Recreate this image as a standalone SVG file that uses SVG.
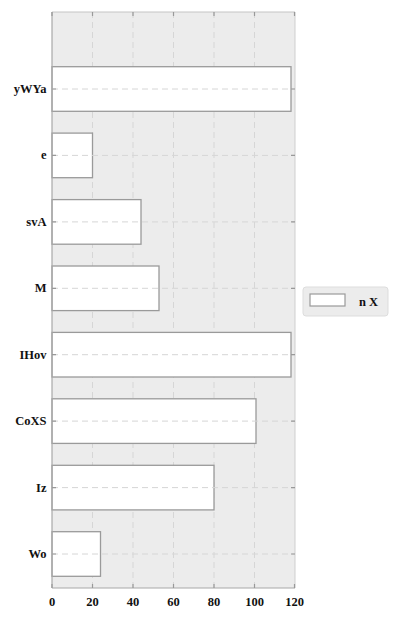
<svg xmlns="http://www.w3.org/2000/svg" width="414" height="621" viewBox="0 0 414 621">
<style>
.lbl{font-family:"Liberation Serif","DejaVu Serif",serif;font-weight:bold;font-size:12.5px;fill:#111}
.grid{stroke:#d6d6d6;stroke-width:1;stroke-dasharray:6,4;fill:none}
.bar{fill:#ffffff;stroke:#9a9a9a;stroke-width:1.3}
.tick{stroke:#999;stroke-width:1.2}
</style>
<rect width="414" height="621" fill="#ffffff"/>
<g id="plot">
<rect x="52" y="12" width="243" height="576" fill="#ececec"/>
<g id="grid">
<line class="grid" x1="92.5" y1="12" x2="92.5" y2="588"/>
<line class="grid" x1="133" y1="12" x2="133" y2="588"/>
<line class="grid" x1="173.5" y1="12" x2="173.5" y2="588"/>
<line class="grid" x1="214" y1="12" x2="214" y2="588"/>
<line class="grid" x1="254.5" y1="12" x2="254.5" y2="588"/>
</g>
</g>
<g id="bars">
<rect id="bar-yWYa" class="bar" x="52" y="66.7" width="239" height="44.6"/>
<rect id="bar-e" class="bar" x="52" y="133.1" width="40.5" height="44.6"/>
<rect id="bar-svA" class="bar" x="52" y="199.6" width="89" height="44.6"/>
<rect id="bar-M" class="bar" x="52" y="266" width="107" height="44.6"/>
<rect id="bar-IHov" class="bar" x="52" y="332.4" width="239" height="44.6"/>
<rect id="bar-CoXS" class="bar" x="52" y="398.8" width="204" height="44.6"/>
<rect id="bar-Iz" class="bar" x="52" y="465.3" width="162" height="44.6"/>
<rect id="bar-Wo" class="bar" x="52" y="531.7" width="48.5" height="44.6"/>
</g>
<g id="hgrid">
<line class="grid" x1="52" y1="89" x2="295" y2="89"/>
<line class="grid" x1="52" y1="155.4" x2="295" y2="155.4"/>
<line class="grid" x1="52" y1="221.9" x2="295" y2="221.9"/>
<line class="grid" x1="52" y1="288.3" x2="295" y2="288.3"/>
<line class="grid" x1="52" y1="354.7" x2="295" y2="354.7"/>
<line class="grid" x1="52" y1="421.1" x2="295" y2="421.1"/>
<line class="grid" x1="52" y1="487.6" x2="295" y2="487.6"/>
<line class="grid" x1="52" y1="554" x2="295" y2="554"/>
</g>
<g id="axes">
<line x1="52" y1="12" x2="295" y2="12" stroke="#c4c4c4" stroke-width="1"/>
<line x1="295" y1="12" x2="295" y2="588" stroke="#cfcfcf" stroke-width="1"/>
<line x1="52" y1="588" x2="295" y2="588" stroke="#a8a8a8" stroke-width="1.2"/>
<line x1="52" y1="12" x2="52" y2="588" stroke="#a8a8a8" stroke-width="1.2"/>
<g id="ticks">
<path class="tick" d="M52,12v4M92.5,12v4M133,12v4M173.5,12v4M214,12v4M254.5,12v4M294.5,12v4"/>
<path class="tick" d="M52,588v-4M92.5,588v-4M133,588v-4M173.5,588v-4M214,588v-4M254.5,588v-4M294.5,588v-4"/>
<path class="tick" d="M52,89h4M52,155.4h4M52,221.9h4M52,288.3h4M52,354.7h4M52,421.1h4M52,487.6h4M52,554h4"/>
<path class="tick" d="M295,89h-4M295,155.4h-4M295,221.9h-4M295,288.3h-4M295,354.7h-4M295,421.1h-4M295,487.6h-4M295,554h-4"/>
</g>
</g>
<g id="ylabels" class="lbl" text-anchor="end">
<text x="46.5" y="93">yWYa</text>
<text x="46.5" y="159.4">e</text>
<text x="46.5" y="225.9">svA</text>
<text x="46.5" y="292.3">M</text>
<text x="46.5" y="358.7">IHov</text>
<text x="46.5" y="425.1">CoXS</text>
<text x="46.5" y="491.6">Iz</text>
<text x="46.5" y="558">Wo</text>
</g>
<g id="xlabels" class="lbl" text-anchor="middle">
<text x="52" y="606">0</text>
<text x="92.5" y="606">20</text>
<text x="133" y="606">40</text>
<text x="173.5" y="606">60</text>
<text x="214" y="606">80</text>
<text x="254.5" y="606">100</text>
<text x="294.5" y="606">120</text>
</g>
<g id="legend">
<rect x="303" y="287" width="85" height="29" rx="3" fill="#ececec" stroke="#dddddd" stroke-width="1"/>
<rect x="310" y="294" width="35" height="12" fill="#ffffff" stroke="#9a9a9a" stroke-width="1.2"/>
<text class="lbl" x="359" y="306">n X</text>
</g>
</svg>
